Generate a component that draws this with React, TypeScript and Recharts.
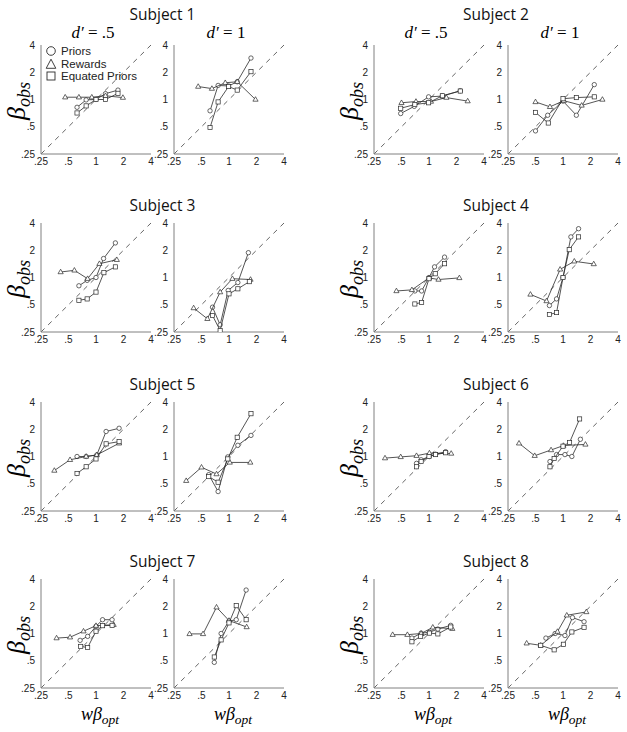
import React from 'react'
import { ScatterChart, Scatter, XAxis, YAxis, ReferenceLine } from 'recharts'

type Pair = [number, number]

// axis ticks (log2 spaced)
const axisTicks = [0.25, 0.5, 1, 2, 4]
const tickText: Record<number, string> = { 0.25: '.25', 0.5: '.5', 1: '1', 2: '2', 4: '4' }

const seriesNames = ['Priors', 'Rewards', 'Equated Priors']
const subjectNames = ['Subject 1', 'Subject 2', 'Subject 3', 'Subject 4', 'Subject 5', 'Subject 6', 'Subject 7', 'Subject 8']
const dprimeLabels = ['.5', '1']

// Subject 1
const s1LowPriors: Pair[] = [[0.62, 0.82], [0.78, 0.99], [1.0, 1.0], [1.27, 1.16], [1.74, 1.27]]
const s1LowRewards: Pair[] = [[0.46, 1.06], [0.65, 1.06], [0.9, 1.06], [1.27, 1.1], [1.97, 1.05]]
const s1LowEquated: Pair[] = [[0.62, 0.71], [0.78, 0.85], [1.0, 1.0], [1.27, 1.0], [1.74, 1.17]]
const s1HighPriors: Pair[] = [[0.62, 0.75], [0.76, 1.43], [0.99, 1.41], [1.23, 1.57], [1.74, 2.87]]
const s1HighRewards: Pair[] = [[0.46, 1.39], [0.65, 1.32], [0.91, 1.53], [1.23, 1.57], [1.95, 1.0]]
const s1HighEquated: Pair[] = [[0.62, 0.49], [0.76, 0.94], [0.99, 1.39], [1.23, 1.27], [1.74, 2.03]]

// Subject 2
const s2LowPriors: Pair[] = [[0.49, 0.7], [0.69, 0.84], [0.99, 1.07], [1.4, 1.09], [2.2, 1.25]]
const s2LowRewards: Pair[] = [[0.5, 0.92], [0.72, 0.95], [1.05, 0.95], [1.55, 1.05], [2.65, 0.96]]
const s2LowEquated: Pair[] = [[0.49, 0.8], [0.7, 0.88], [0.99, 0.92], [1.4, 1.1], [2.2, 1.24]]
const s2HighPriors: Pair[] = [[0.5, 0.45], [0.68, 0.67], [1.0, 0.96], [1.4, 0.67], [2.2, 1.46]]
const s2HighRewards: Pair[] = [[0.5, 0.94], [0.72, 0.83], [1.02, 0.97], [1.6, 0.86], [2.7, 1.0]]
const s2HighEquated: Pair[] = [[0.5, 0.72], [0.69, 0.55], [1.0, 1.02], [1.4, 1.05], [2.2, 1.07]]

// Subject 3
const s3LowPriors: Pair[] = [[0.65, 0.81], [0.8, 0.93], [1.0, 1.0], [1.21, 1.62], [1.63, 2.41]]
const s3LowRewards: Pair[] = [[0.41, 1.15], [0.58, 1.2], [0.81, 0.97], [1.09, 1.42], [1.69, 1.57]]
const s3LowEquated: Pair[] = [[0.65, 0.56], [0.8, 0.58], [1.0, 0.69], [1.22, 1.13], [1.63, 1.31]]
const s3HighPriors: Pair[] = [[0.66, 0.47], [0.8, 0.3], [0.98, 0.72], [1.25, 0.88], [1.63, 1.88]]
const s3HighRewards: Pair[] = [[0.41, 0.46], [0.58, 0.35], [0.8, 0.69], [1.09, 0.97], [1.72, 0.95]]
const s3HighEquated: Pair[] = [[0.66, 0.38], [0.8, 0.26], [1.0, 0.66], [1.25, 0.75], [1.67, 0.9]]

// Subject 4
const s4LowPriors: Pair[] = [[0.7, 0.71], [0.83, 0.71], [1.0, 1.0], [1.15, 1.31], [1.48, 1.68]]
const s4LowRewards: Pair[] = [[0.44, 0.71], [0.65, 0.73], [1.0, 0.99], [1.27, 0.95], [2.15, 0.99]]
const s4LowEquated: Pair[] = [[0.7, 0.51], [0.83, 0.53], [1.0, 0.97], [1.17, 1.1], [1.48, 1.42]]
const s4HighPriors: Pair[] = [[0.71, 0.49], [0.85, 0.58], [1.0, 1.0], [1.22, 2.81], [1.48, 3.46]]
const s4HighRewards: Pair[] = [[0.44, 0.65], [0.66, 0.55], [0.93, 1.23], [1.33, 1.51], [2.17, 1.41]]
const s4HighEquated: Pair[] = [[0.71, 0.39], [0.85, 0.41], [1.0, 1.0], [1.17, 2.03], [1.48, 2.81]]

// Subject 5
const s5LowPriors: Pair[] = [[0.62, 1.0], [0.78, 1.0], [1.02, 1.04], [1.29, 1.89], [1.79, 2.05]]
const s5LowRewards: Pair[] = [[0.35, 0.7], [0.52, 0.92], [0.78, 1.0], [1.02, 1.04], [1.79, 1.4]]
const s5LowEquated: Pair[] = [[0.62, 0.65], [0.78, 0.77], [1.0, 0.94], [1.29, 1.38], [1.79, 1.46]]
const s5HighPriors: Pair[] = [[0.6, 0.63], [0.76, 0.41], [0.97, 0.99], [1.25, 1.33], [1.74, 1.71]]
const s5HighRewards: Pair[] = [[0.34, 0.54], [0.5, 0.76], [0.73, 0.64], [1.02, 0.86], [1.71, 0.86]]
const s5HighEquated: Pair[] = [[0.6, 0.6], [0.76, 0.52], [0.97, 0.94], [1.23, 1.63], [1.74, 2.97]]

// Subject 6
const s6LowPriors: Pair[] = [[0.73, 0.84], [0.82, 0.92], [1.01, 1.0], [1.18, 1.06], [1.52, 1.13]]
const s6LowRewards: Pair[] = [[0.33, 0.96], [0.49, 0.99], [0.73, 1.02], [1.01, 1.09], [1.75, 1.08]]
const s6LowEquated: Pair[] = [[0.73, 0.77], [0.82, 0.88], [1.0, 1.0], [1.18, 1.05], [1.52, 1.1]]
const s6HighPriors: Pair[] = [[0.72, 0.88], [0.85, 1.05], [1.05, 1.05], [1.25, 1.0], [1.55, 1.55]]
const s6HighRewards: Pair[] = [[0.33, 1.4], [0.49, 1.02], [0.74, 1.18], [1.01, 1.32], [1.76, 1.36]]
const s6HighEquated: Pair[] = [[0.72, 0.77], [0.8, 0.95], [1.0, 1.3], [1.18, 1.43], [1.52, 2.6]]

// Subject 7
const s7LowPriors: Pair[] = [[0.67, 0.84], [0.81, 0.93], [1.0, 1.2], [1.18, 1.42], [1.5, 1.42]]
const s7LowRewards: Pair[] = [[0.37, 0.89], [0.52, 0.91], [0.73, 1.06], [1.0, 1.22], [1.56, 1.25]]
const s7LowEquated: Pair[] = [[0.68, 0.72], [0.81, 0.7], [1.0, 1.06], [1.18, 1.22], [1.5, 1.23]]
const s7HighPriors: Pair[] = [[0.69, 0.48], [0.82, 1.0], [1.0, 1.37], [1.2, 1.42], [1.54, 3.02]]
const s7HighRewards: Pair[] = [[0.37, 0.99], [0.52, 0.99], [0.73, 1.95], [1.0, 1.39], [1.56, 1.18]]
const s7HighEquated: Pair[] = [[0.69, 0.55], [0.82, 0.85], [1.0, 1.31], [1.2, 2.03], [1.54, 1.42]]

// Subject 8
const s8LowPriors: Pair[] = [[0.65, 0.89], [0.82, 1.01], [1.01, 1.03], [1.25, 1.12], [1.73, 1.23]]
const s8LowRewards: Pair[] = [[0.4, 0.97], [0.58, 0.97], [0.82, 1.0], [1.1, 1.17], [1.8, 1.13]]
const s8LowEquated: Pair[] = [[0.65, 0.81], [0.81, 0.93], [1.01, 1.01], [1.25, 0.99], [1.73, 1.18]]
const s8HighPriors: Pair[] = [[0.65, 0.89], [0.82, 1.0], [1.05, 0.95], [1.27, 1.5], [1.7, 1.35]]
const s8HighRewards: Pair[] = [[0.4, 0.78], [0.57, 0.74], [0.87, 1.05], [1.1, 1.59], [1.8, 1.73]]
const s8HighEquated: Pair[] = [[0.57, 0.74], [0.8, 0.66], [1.01, 0.76], [1.25, 1.04], [1.7, 1.17]]

const panelSeries: Pair[][][] = [
  [s1LowPriors, s1LowRewards, s1LowEquated], [s1HighPriors, s1HighRewards, s1HighEquated],
  [s2LowPriors, s2LowRewards, s2LowEquated], [s2HighPriors, s2HighRewards, s2HighEquated],
  [s3LowPriors, s3LowRewards, s3LowEquated], [s3HighPriors, s3HighRewards, s3HighEquated],
  [s4LowPriors, s4LowRewards, s4LowEquated], [s4HighPriors, s4HighRewards, s4HighEquated],
  [s5LowPriors, s5LowRewards, s5LowEquated], [s5HighPriors, s5HighRewards, s5HighEquated],
  [s6LowPriors, s6LowRewards, s6LowEquated], [s6HighPriors, s6HighRewards, s6HighEquated],
  [s7LowPriors, s7LowRewards, s7LowEquated], [s7HighPriors, s7HighRewards, s7HighEquated],
  [s8LowPriors, s8LowRewards, s8LowEquated], [s8HighPriors, s8HighRewards, s8HighEquated],
]

// layout
const colLeft = [41, 174, 374, 508]
const rowTop = [45, 223, 402, 579]
const PW = 110
const PH = 109
const INK = '#2a2a2a'
const AXIS = '#808080'
const tickStyle = { fontSize: 10, fill: '#222', fontFamily: '"Liberation Sans", Arial, sans-serif' }

const circleShape = (p: any) => (
  <circle cx={p.cx} cy={p.cy} r={2.2} fill="#fff" stroke={INK} strokeWidth={0.7} />
)
const triangleShape = (p: any) => (
  <path
    d={`M${p.cx},${p.cy - 2.8} L${p.cx + 2.6},${p.cy + 1.7} L${p.cx - 2.6},${p.cy + 1.7} Z`}
    fill="#fff"
    stroke={INK}
    strokeWidth={0.7}
  />
)
const squareShape = (p: any) => (
  <rect x={p.cx - 2.1} y={p.cy - 2.1} width={4.2} height={4.2} fill="#fff" stroke={INK} strokeWidth={0.7} />
)
const shapes = [circleShape, triangleShape, squareShape]

const toPts = (arr: Pair[]) => arr.map(([x, y]) => ({ x, y }))

function Panel({ left, top, series }: { left: number; top: number; series: Pair[][] }) {
  return (
    <div style={{ position: 'absolute', left: left - 30, top: top - 6 }}>
      <ScatterChart width={146} height={135} margin={{ top: 6, right: 6, left: 5, bottom: 0 }}>
        <XAxis
          type="number"
          dataKey="x"
          scale="log"
          domain={[0.25, 4]}
          ticks={axisTicks}
          interval={0}
          allowDataOverflow
          tickFormatter={(v: number) => tickText[v] ?? String(v)}
          tickLine={false}
          tickSize={2}
          tickMargin={2}
          height={20}
          stroke={AXIS}
          tick={tickStyle}
        />
        <YAxis
          type="number"
          dataKey="y"
          scale="log"
          domain={[0.25, 4]}
          ticks={axisTicks}
          interval={0}
          allowDataOverflow
          tickFormatter={(v: number) => tickText[v] ?? String(v)}
          tickLine={false}
          tickSize={2}
          tickMargin={4}
          width={25}
          stroke={AXIS}
          tick={tickStyle}
        />
        <ReferenceLine
          segment={[{ x: 0.25, y: 0.25 }, { x: 4, y: 4 }]}
          stroke="#555"
          strokeWidth={0.9}
          strokeDasharray="5 5"
          ifOverflow="extendDomain"
        />
        {series.map((s, i) => (
          <Scatter
            key={seriesNames[i]}
            name={seriesNames[i]}
            data={toPts(s)}
            line={{ stroke: INK, strokeWidth: 0.8 }}
            shape={shapes[i]}
            isAnimationActive={false}
          />
        ))}
      </ScatterChart>
    </div>
  )
}

const serif = '"Liberation Serif", "DejaVu Serif", serif'

function YLabel({ cx, cy }: { cx: number; cy: number }) {
  return (
    <div
      style={{
        position: 'absolute',
        left: cx - 35,
        top: cy - 14,
        width: 70,
        height: 28,
        textAlign: 'center',
        transform: 'rotate(-90deg)',
        fontFamily: serif,
        fontStyle: 'italic',
        fontSize: 26,
        lineHeight: '28px',
        whiteSpace: 'nowrap',
      }}
    >
      β<span style={{ fontSize: 18, position: 'relative', top: 5 }}>obs</span>
    </div>
  )
}

function XLabel({ cx, cy }: { cx: number; cy: number }) {
  return (
    <div
      style={{
        position: 'absolute',
        left: cx - 40,
        top: cy - 12,
        width: 80,
        textAlign: 'center',
        fontFamily: serif,
        fontStyle: 'italic',
        fontSize: 18,
        lineHeight: '24px',
        whiteSpace: 'nowrap',
      }}
    >
      wβ<span style={{ fontSize: 13.5, position: 'relative', top: 4 }}>opt</span>
    </div>
  )
}

function Legend() {
  const rows = [51, 63.5, 76]
  return (
    <div style={{ position: 'absolute', left: 45, top: 0 }}>
      {seriesNames.map((n, i) => (
        <div key={n} style={{ position: 'absolute', top: rows[i] - 7, left: 0, height: 14, display: 'flex', alignItems: 'center', whiteSpace: 'nowrap' }}>
          <svg width={12} height={12} style={{ marginRight: 4 }}>
            {i === 0 && <circle cx={6} cy={6} r={4.3} fill="#fff" stroke={INK} strokeWidth={0.9} />}
            {i === 1 && <path d="M6,1.2 L10.8,10.3 L1.2,10.3 Z" fill="#fff" stroke={INK} strokeWidth={0.9} />}
            {i === 2 && <rect x={2} y={2} width={8} height={8} fill="#fff" stroke={INK} strokeWidth={0.9} />}
          </svg>
          <span style={{ fontFamily: '"Liberation Sans", Arial, sans-serif', fontSize: 11.5, color: '#222' }}>{n}</span>
        </div>
      ))}
    </div>
  )
}

export default function App() {
  const items: React.ReactNode[] = []
  subjectNames.forEach((name, si) => {
    const row = Math.floor(si / 2)
    const side = si % 2
    const top = rowTop[row]
    const c0 = colLeft[side * 2]
    const c1 = colLeft[side * 2 + 1]
    const titleY = row === 0 ? 14 : top - 18
    items.push(
      <div
        key={name}
        style={{
          position: 'absolute',
          left: (c0 + c1 + PW) / 2 - 80,
          top: titleY - 11,
          width: 160,
          textAlign: 'center',
          fontFamily: '"Open Sans", "Noto Sans", sans-serif',
          fontSize: 15.5,
          lineHeight: '22px',
          color: '#111',
        }}
      >
        {name}
      </div>
    )
    items.push(<YLabel key={name + 'y'} cx={c0 - 24} cy={top + PH / 2 + 1} />)
    ;[c0, c1].forEach((cl, k) => {
      items.push(<Panel key={name + k} left={cl} top={top} series={panelSeries[si * 2 + k]} />)
      if (row === 0) {
        items.push(
          <div
            key={name + 'd' + k}
            style={{
              position: 'absolute',
              left: cl + PW / 2 - 3 - 40,
              top: 33 - 11,
              width: 80,
              textAlign: 'center',
              fontFamily: serif,
              fontSize: 17,
              lineHeight: '22px',
              whiteSpace: 'nowrap',
            }}
          >
            <i>d′</i> = {dprimeLabels[k]}
          </div>
        )
      }
      if (row === 3) {
        items.push(<XLabel key={name + 'x' + k} cx={cl + PW / 2 + 4} cy={714} />)
      }
    })
  })
  return (
    <div style={{ position: 'absolute', left: 0, top: 0, width: 627, height: 732, background: '#fff', overflow: 'hidden' }}>
      {items}
      <Legend />
    </div>
  )
}
